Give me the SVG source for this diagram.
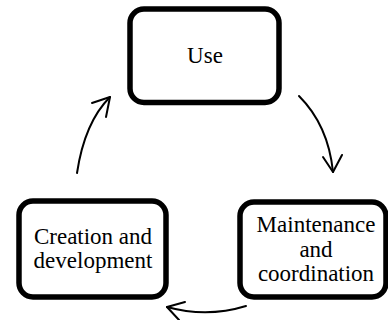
<svg xmlns="http://www.w3.org/2000/svg" width="388" height="320" viewBox="0 0 388 320">
<style>
.box{fill:#fff;stroke:#000;stroke-width:5.5}
.arc{fill:none;stroke:#000;stroke-width:2;stroke-linecap:round;stroke-linejoin:round}
</style>
<rect width="388" height="320" fill="#fff"/>
<g id="connectors">
<path class="arc" d="M77 173 Q84.6 122.4 110 97"/>
<polyline class="arc" points="92,103 110,97 106,117"/>
<path class="arc" d="M299 96 Q328.3 125.3 333 172"/>
<polyline class="arc" points="323,157 333,172 342,155"/>
<path class="arc" d="M246 306 Q207 318 167 307"/>
<polyline class="arc" points="185,302 167,307 179,320"/>
</g>
<g font-family="Liberation Serif, Times New Roman, DejaVu Serif, serif" font-size="23" text-anchor="middle" fill="#000">
<g id="node-use">
<rect class="box" x="130" y="9" width="149" height="93.5" rx="14"/>
<text x="205" y="63">Use</text>
</g>
<g id="node-creation">
<rect class="box" x="19" y="201" width="147" height="96" rx="14"/>
<text x="93" y="244">Creation and</text>
<text x="93" y="268">development</text>
</g>
<g id="node-maintenance">
<rect class="box" x="240" y="202" width="146" height="95" rx="14"/>
<text x="316" y="232">Maintenance</text>
<text x="316" y="257">and</text>
<text x="316" y="281">coordination</text>
</g>
</g>
</svg>
